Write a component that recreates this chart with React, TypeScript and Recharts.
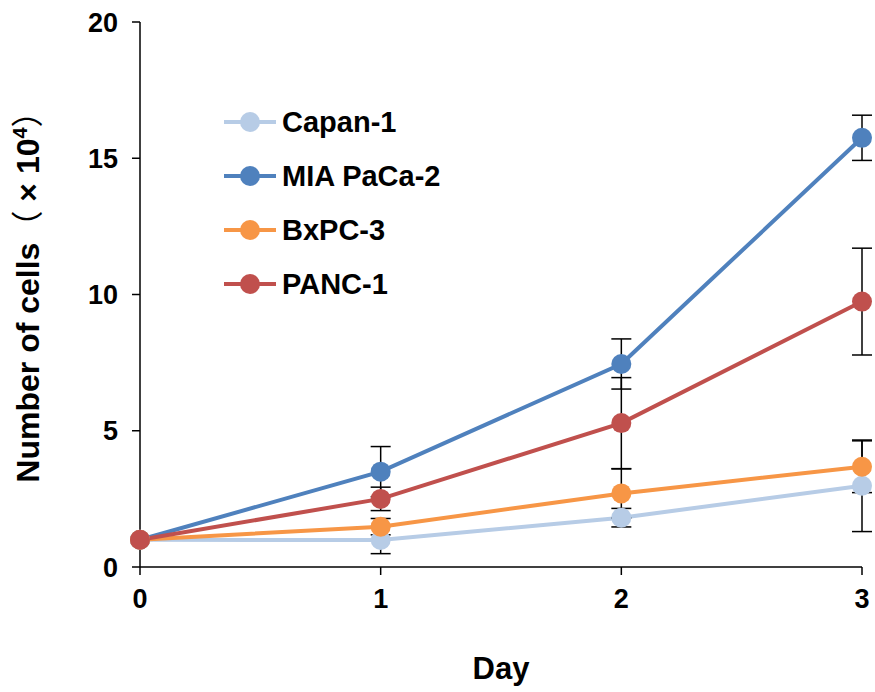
import { LineChart, Line, XAxis, YAxis, ErrorBar, Legend } from "recharts";

const days = [0, 1, 2, 3];
const yTicks = [0, 5, 10, 15, 20];

const capan = [1, 0.99, 1.81, 2.98];
const capanErr = [0, 0.5, 0.34, 1.68];
const mia = [1, 3.5, 7.45, 15.75];
const miaErr = [0, 0.92, 0.92, 0.83];
const bxpc = [1, 1.48, 2.7, 3.68];
const bxpcErr = [0, 0.3, 0.9, 0.95];
const panc = [1, 2.5, 5.28, 9.74];
const pancErr = [0, 0.43, 1.67, 1.96];

const series = [
  { key: "capan", name: "Capan-1", color: "#B7CCE6" },
  { key: "mia", name: "MIA PaCa-2", color: "#4F81BD" },
  { key: "bxpc", name: "BxPC-3", color: "#F79646" },
  { key: "panc", name: "PANC-1", color: "#C0504D" },
];

const data = days.map((d, i) => ({
  day: d,
  capan: capan[i],
  capanErr: capanErr[i],
  mia: mia[i],
  miaErr: miaErr[i],
  bxpc: bxpc[i],
  bxpcErr: bxpcErr[i],
  panc: panc[i],
  pancErr: pancErr[i],
}));

const FONT = "'Liberation Sans', Arial, sans-serif";
const CJK = "'Noto Sans CJK JP', sans-serif";
const tickStyle = { fontFamily: FONT, fontWeight: 700, fontSize: 27, fill: "#000" };

const LegendBox = () => (
  <div style={{ fontFamily: FONT, fontWeight: 700, fontSize: 29, color: "#000", lineHeight: 1 }}>
    {series.map((s) => (
      <div key={s.key} style={{ display: "flex", alignItems: "center", height: 54 }}>
        <svg width={56} height={24} style={{ marginRight: 4 }}>
          <line x1={2} y1={12} x2={54} y2={12} stroke={s.color} strokeWidth={4} />
          <circle cx={28} cy={12} r={10} fill={s.color} />
        </svg>
        <span>{s.name}</span>
      </div>
    ))}
  </div>
);

export default function App() {
  return (
    <div style={{ position: "absolute", left: 0, top: 0, background: "#fff" }}>
      <LineChart
        width={875}
        height={692}
        data={data}
        margin={{ top: 22, right: 13, left: 80, bottom: 85 }}
      >
        <XAxis
          dataKey="day"
          type="number"
          domain={[0, 3]}
          ticks={days}
          tickSize={8}
          tickMargin={14}
          stroke="#000"
          strokeWidth={1.5}
          tick={tickStyle}
          height={40}
          label={{
            value: "Day",
            position: "bottom",
            offset: 50,
            style: { fontFamily: FONT, fontWeight: 700, fontSize: 31, fill: "#000" },
          }}
        />
        <YAxis
          type="number"
          domain={[0, 20]}
          ticks={yTicks}
          tickSize={8}
          tickMargin={14}
          stroke="#000"
          strokeWidth={1.5}
          tick={tickStyle}
          width={60}
          label={{
            content: () => (
              <text
                transform="translate(39, 289) rotate(-90)"
                textAnchor="middle"
                style={{ fontFamily: FONT, fontWeight: 700, fontSize: 32, fill: "#000" }}
              >
                Number of cells
                <tspan fontFamily={CJK} fontWeight={400}>（</tspan>
                <tspan> × 10</tspan>
                <tspan dy={-12} fontSize={20}>4</tspan>
                <tspan dy={12} fontFamily={CJK} fontWeight={400}>）</tspan>
              </text>
            ),
          }}
        />
        <Legend
          layout="vertical"
          verticalAlign="middle"
          align="center"
          wrapperStyle={{ left: 222, top: 95, width: 260 }}
          content={<LegendBox />}
        />
        {series.map((s) => (
          <Line
            key={s.key}
            dataKey={s.key}
            name={s.name}
            stroke={s.color}
            strokeWidth={4}
            dot={{ r: 10, fill: s.color, stroke: s.color, strokeWidth: 0 }}
            activeDot={false}
            isAnimationActive={false}
          >
            <ErrorBar dataKey={s.key + "Err"} direction="y" width={10} stroke="#000" strokeWidth={1.5} />
          </Line>
        ))}
      </LineChart>
    </div>
  );
}
